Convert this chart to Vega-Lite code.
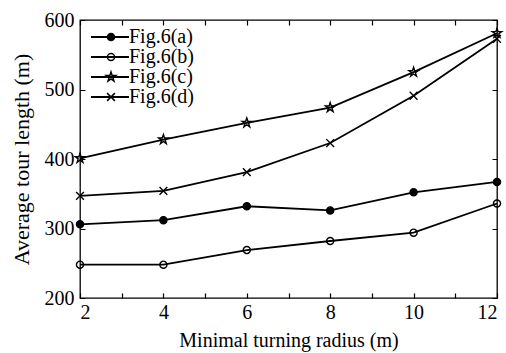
{
  "$schema": "https://vega.github.io/schema/vega-lite/v6.json",
  "width": 417,
  "height": 278,
  "autosize": {"type": "none"},
  "padding": {"left": 80, "top": 20, "right": 9, "bottom": 55},
  "background": "white",
  "config": {
    "font": "Liberation Serif",
    "view": {"stroke": "black", "strokeWidth": 1.3},
    "axis": {
      "domain": false,
      "ticks": false,
      "grid": true,
      "gridColor": "black",
      "gridWidth": 1.2,
      "gridOpacity": 1,
      "labelColor": "black",
      "labelFont": "Liberation Serif",
      "labelFontSize": 20,
      "titleFont": "Liberation Serif",
      "titleFontSize": 20,
      "titleFontWeight": "normal",
      "titleColor": "black"
    },
    "legend": {
      "labelFont": "Liberation Serif",
      "labelFontSize": 20,
      "labelColor": "black"
    }
  },
  "data": {
    "values": [
      {"r": 2, "len": 306, "s": "Fig.6(a)"},
      {"r": 4, "len": 312, "s": "Fig.6(a)"},
      {"r": 6, "len": 332, "s": "Fig.6(a)"},
      {"r": 8, "len": 326, "s": "Fig.6(a)"},
      {"r": 10, "len": 352, "s": "Fig.6(a)"},
      {"r": 12, "len": 367, "s": "Fig.6(a)"},
      {"r": 2, "len": 248, "s": "Fig.6(b)"},
      {"r": 4, "len": 248, "s": "Fig.6(b)"},
      {"r": 6, "len": 269, "s": "Fig.6(b)"},
      {"r": 8, "len": 282, "s": "Fig.6(b)"},
      {"r": 10, "len": 294, "s": "Fig.6(b)"},
      {"r": 12, "len": 336, "s": "Fig.6(b)"},
      {"r": 2, "len": 401, "s": "Fig.6(c)"},
      {"r": 4, "len": 428, "s": "Fig.6(c)"},
      {"r": 6, "len": 452, "s": "Fig.6(c)"},
      {"r": 8, "len": 474, "s": "Fig.6(c)"},
      {"r": 10, "len": 525, "s": "Fig.6(c)"},
      {"r": 12, "len": 581, "s": "Fig.6(c)"},
      {"r": 2, "len": 347, "s": "Fig.6(d)"},
      {"r": 4, "len": 354, "s": "Fig.6(d)"},
      {"r": 6, "len": 381, "s": "Fig.6(d)"},
      {"r": 8, "len": 423, "s": "Fig.6(d)"},
      {"r": 10, "len": 491, "s": "Fig.6(d)"},
      {"r": 12, "len": 573, "s": "Fig.6(d)"}
    ]
  },
  "layer": [
    {
      "mark": {"type": "line", "strokeWidth": 1.8},
      "encoding": {
        "x": {
          "field": "r", "type": "quantitative",
          "scale": {"domain": [2, 12], "nice": false, "zero": false},
          "axis": {
            "orient": "bottom",
            "title": "Minimal turning radius (m)",
            "values": [2, 3, 4, 5, 6, 7, 8, 9, 10, 11, 12],
            "labelExpr": "datum.value % 2 === 0 ? datum.label : ''",
            "gridDash": [5, 268, 5, 2000],
            "labelPadding": 4,
            "titlePadding": 8
          }
        },
        "y": {
          "field": "len", "type": "quantitative",
          "scale": {"domain": [200, 600], "nice": false, "zero": false},
          "axis": {
            "orient": "left",
            "title": "Average tour length (m)",
            "titleFontSize": 22,
            "values": [200, 250, 300, 350, 400, 450, 500, 550, 600],
            "labelExpr": "datum.value % 100 === 0 ? datum.label : ''",
            "gridDash": [5, 407, 5, 2000],
            "labelPadding": 6,
            "titlePadding": 11
          }
        },
        "color": {
          "field": "s", "type": "nominal",
          "scale": {"range": ["black", "black", "black", "black"]},
          "legend": {
            "title": null,
            "orient": "none",
            "legendX": 10,
            "legendY": 7,
            "padding": 0,
            "symbolType": "stroke",
            "symbolSize": 1444,
            "symbolStrokeWidth": 1.8,
            "symbolStrokeColor": "black",
            "clipHeight": 20,
            "labelOpacity": 0,
            "rowPadding": 0
          }
        }
      }
    },
    {
      "mark": {"type": "point", "stroke": "black", "strokeWidth": 1.4, "size": 50, "opacity": 1},
      "encoding": {
        "x": {"field": "r", "type": "quantitative"},
        "y": {"field": "len", "type": "quantitative"},
        "shape": {
          "field": "s", "type": "nominal",
          "scale": {
            "domain": ["Fig.6(a)", "Fig.6(b)", "Fig.6(c)", "Fig.6(d)"],
            "range": [
              "circle",
              "circle",
              "M0,-1.4L0.314,-0.433L1.332,-0.433L0.509,0.165L0.823,1.133L0,0.535L-0.823,1.133L-0.509,0.165L-1.332,-0.433L-0.314,-0.433Z",
              "M-1.1,-1.1L1.1,1.1M-1.1,1.1L1.1,-1.1"
            ]
          },
          "legend": {
            "title": null,
            "orient": "none",
            "legendX": 21,
            "legendY": 7,
            "padding": 0,
            "symbolSize": 50,
            "labelOffset": 8,
            "rowPadding": 0,
            "encode": {
              "symbols": {
                "stroke": {"value": "black"},
                "strokeWidth": {"value": 1.4},
                "opacity": {"value": 1}
              }
            }
          }
        },
        "fill": {
          "field": "s", "type": "nominal",
          "scale": {
            "domain": ["Fig.6(a)", "Fig.6(b)", "Fig.6(c)", "Fig.6(d)"],
            "range": ["black", "transparent", "transparent", "transparent"]
          },
          "legend": {
            "title": null,
            "orient": "none",
            "legendX": 21,
            "legendY": 7,
            "padding": 0,
            "symbolSize": 50,
            "labelOffset": 8,
            "rowPadding": 0,
            "encode": {
              "symbols": {
                "stroke": {"value": "black"},
                "strokeWidth": {"value": 1.4},
                "opacity": {"value": 1}
              }
            }
          }
        }
      }
    }
  ]
}
